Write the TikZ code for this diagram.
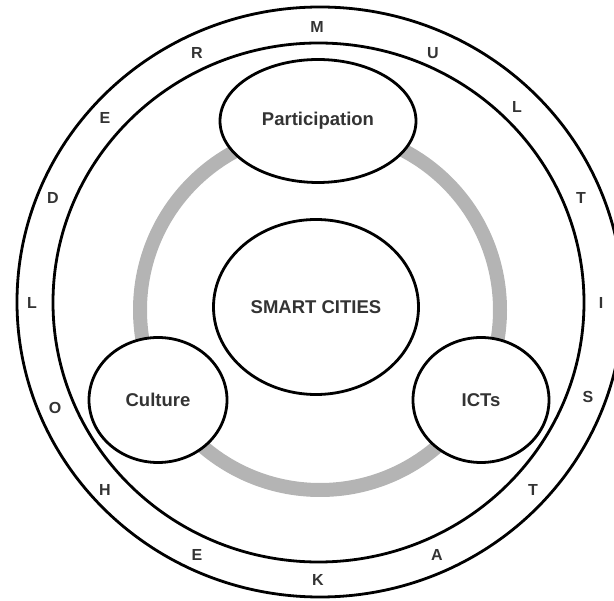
\documentclass[tikz,border=0pt]{standalone}
\usepackage{fontspec}
\setmainfont{Liberation Sans}
\usepackage{tikz}
\usetikzlibrary{shapes.geometric}
\definecolor{ringgray}{HTML}{B4B4B4}
\definecolor{txtgray}{HTML}{333333}

\begin{document}
\begin{tikzpicture}[
        x=1pt, y=-1pt,
        ring/.style={line width=2.8pt},
        blob/.style={ellipse, draw, line width=2.8pt, fill=white, inner sep=0pt,
            text=txtgray, font=\fontsize{18.5}{21}\selectfont\bfseries},
        ltr/.style={text=txtgray, font=\fontsize{16}{18}\selectfont\bfseries}
        ]
        \useasboundingbox (0,0) rectangle (614,601);

        % rings
        \draw[ring] (320,302) ellipse (303 and 295);
        \draw[ring] (318.5,302.5) ellipse (265.5 and 259.5);

        % grey loop behind the three themes
        \draw[line width=14pt, draw=ringgray] (320,310) ellipse (180 and 180);

        % themes
        \node[blob, minimum width=205pt, minimum height=175pt] (smart) at (316,307) {SMART CITIES};
        \node[blob, minimum width=196pt, minimum height=123pt] (part) at (318,121) {Participation};
        \node[blob, minimum width=138pt, minimum height=125pt] (cult) at (158,400) {Culture};
        \node[blob, minimum width=136pt, minimum height=125pt] (icts) at (481,400) {ICTs};

        % letters round the ring
        \node[ltr] (m1) at (317,27) {M};
        \node[ltr] (u1) at (433,53) {U};
        \node[ltr] (l1) at (517,107) {L};
        \node[ltr] (t1) at (581,198) {T};
        \node[ltr] (i1) at (601,303) {I};
        \node[ltr] (s1) at (588,397) {S};
        \node[ltr] (t2) at (533,490) {T};
        \node[ltr] (a1) at (437,555) {A};
        \node[ltr] (k1) at (318,580) {K};
        \node[ltr] (e1) at (197,555) {E};
        \node[ltr] (h1) at (105,490) {H};
        \node[ltr] (o1) at (55,408) {O};
        \node[ltr] (l2) at (32,303) {L};
        \node[ltr] (d1) at (53,198) {D};
        \node[ltr] (e2) at (105,118) {E};
        \node[ltr] (r1) at (197,53) {R};
    \end{tikzpicture}
\end{document}
